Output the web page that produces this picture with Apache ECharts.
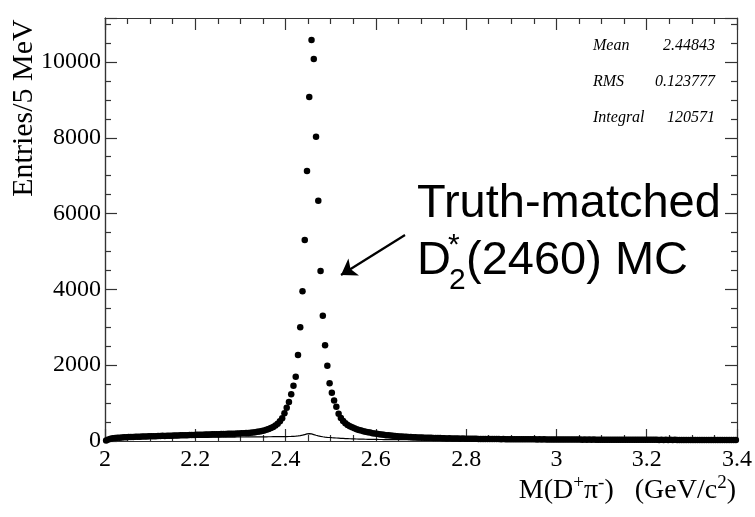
<!DOCTYPE html>
<html>
<head>
<meta charset="utf-8">
<script src="https://cdn.jsdelivr.net/npm/echarts@6/dist/echarts.min.js"></script>
<style>
html,body{margin:0;padding:0;background:#fff;}
#chart{width:755px;height:517px;}
</style>
</head>
<body>
<div id="chart"></div>
<script>
// Histogram binning (5 MeV bins from 2.0 to 3.4 GeV/c^2)
const BIN_START = 2.0;
const BIN_WIDTH = 0.005;

// Points (truth-matched MC), entries per 5 MeV bin
const DOT_VALUES = [
  12, 38, 57, 71, 78, 86, 89, 95, 96, 102, 103, 107, 106, 111, 114, 115, 118, 117, 122, 123,
  125, 128, 127, 132, 133, 136, 135, 139, 141, 140, 145, 146, 147, 150, 151, 154, 153, 157, 159, 158,
  162, 165, 164, 168, 169, 170, 174, 175, 176, 179, 180, 183, 182, 187, 188, 189, 193, 194, 195, 199,
  202, 204, 209, 212, 218, 224, 230, 241, 250, 265, 279, 295, 318, 341, 372, 410, 458, 520, 600, 731,
  879, 1029, 1232, 1459, 1697, 2269, 3000, 3950, 5303, 7124, 9077, 10580, 10079, 8029, 6340, 4485, 3306, 2525, 1987, 1522,
  1274, 1070, 905, 720, 610, 530, 470, 425, 390, 361, 334, 313, 291, 276, 259, 246, 231, 221, 207, 199,
  188, 180, 170, 164, 155, 150, 142, 138, 131, 128, 121, 119, 113, 111, 106, 105, 100, 99, 94, 93,
  90, 87, 87, 83, 83, 79, 79, 76, 76, 72, 73, 69, 70, 67, 67, 64, 65, 62, 63, 60,
  61, 58, 59, 57, 58, 55, 56, 54, 55, 52, 54, 51, 53, 50, 51, 49, 50, 48, 49, 47,
  48, 46, 47, 45, 47, 44, 46, 43, 45, 43, 44, 42, 44, 41, 43, 41, 42, 40, 42, 39,
  41, 39, 40, 38, 40, 38, 39, 37, 39, 37, 38, 36, 38, 36, 37, 35, 37, 35, 36, 34,
  36, 34, 35, 33, 35, 33, 34, 33, 34, 32, 34, 32, 33, 31, 33, 31, 33, 31, 32, 30,
  32, 30, 31, 30, 31, 29, 31, 29, 30, 29, 30, 28, 30, 28, 29, 28, 29, 27, 29, 27,
  28, 27, 28, 26, 28, 26, 27, 26, 27, 25, 27, 25, 26, 25, 26, 24, 26, 24, 25, 24
];

// Thin-line histogram underneath the points
const LINE_VALUES = [
  0, 8, 22, 35, 45, 52, 58, 62, 66, 69, 71, 73, 75, 76, 78, 79, 80, 81, 82, 83,
  84, 85, 85, 86, 87, 87, 88, 89, 89, 90, 90, 91, 92, 92, 93, 93, 94, 94, 95, 95,
  96, 96, 97, 97, 98, 98, 99, 99, 100, 100, 101, 101, 102, 102, 103, 103, 104, 104, 105, 105,
  106, 106, 107, 107, 108, 108, 109, 109, 110, 110, 111, 111, 112, 112, 113, 113, 114, 114, 115, 116,
  117, 119, 121, 124, 128, 134, 142, 154, 170, 186, 194, 186, 170, 152, 136, 122, 112, 104, 97, 92,
  87, 83, 79, 75, 71, 68, 65, 62, 59, 57, 55, 53, 51, 49, 48, 46, 45, 44, 43, 42,
  41, 40, 39, 38, 38, 37, 36, 36, 35, 35, 34, 34, 33, 33, 33, 32, 32, 32, 31, 31,
  31, 30, 30, 30, 29, 29, 29, 29, 28, 28, 28, 28, 27, 27, 27, 27, 27, 26, 26, 26,
  26, 26, 25, 25, 25, 25, 25, 24, 24, 24, 24, 24, 24, 23, 23, 23, 23, 23, 23, 22,
  22, 22, 22, 22, 22, 22, 21, 21, 21, 21, 21, 21, 21, 20, 20, 20, 20, 20, 20, 20,
  20, 19, 19, 19, 19, 19, 19, 19, 19, 18, 18, 18, 18, 18, 18, 18, 18, 18, 17, 17,
  17, 17, 17, 17, 17, 17, 17, 17, 16, 16, 16, 16, 16, 16, 16, 16, 16, 16, 16, 15,
  15, 15, 15, 15, 15, 15, 15, 15, 15, 15, 15, 14, 14, 14, 14, 14, 14, 14, 14, 14,
  14, 14, 14, 14, 13, 13, 13, 13, 13, 13, 13, 13, 13, 13, 13, 13, 12, 12, 12, 12
];

// Axis settings
const X_MIN = 2.0, X_MAX = 3.4, X_STEP = 0.2;
const Y_MIN = 0, Y_MAX = 11160, Y_STEP = 2000;

// Statistics box
const STAT_NAMES = ['Mean', 'RMS', 'Integral'];
const STAT_VALUES = ['2.44843', '0.123777', '120571'];

// Arrow annotation (tail -> tip), in data units
const ARROW_FROM = [2.6646, 5435];
const ARROW_TO = [2.5228, 4379];

function binCenter(i) { return +(BIN_START + (i + 0.5) * BIN_WIDTH).toFixed(4); }
const dotData = DOT_VALUES.map((v, i) => [binCenter(i), v]);
const lineData = LINE_VALUES.map((v, i) => [binCenter(i), v]);

const chart = echarts.init(document.getElementById('chart'));

const serif = 'Liberation Serif, Times New Roman, serif';
const sans = 'Liberation Sans, Arial, Helvetica, sans-serif';
const axisColor = '#333';
const GRID = {left: 105, right: 18, top: 18, bottom: 76, containLabel: false, outerBoundsMode: 'none'};

function frameAxis(extra) {
  return Object.assign({
    type: 'value',
    axisLine: {show: true, onZero: false, lineStyle: {color: axisColor, width: 1.2}},
    splitLine: {show: false},
    axisTick: {show: true, inside: true, length: 12, lineStyle: {color: axisColor, width: 1.2}},
    minorTick: {show: true, splitNumber: 4, length: 6, lineStyle: {color: axisColor, width: 1.2}},
    minorSplitLine: {show: false},
    axisLabel: {show: false}
  }, extra);
}
function dataAxis(extra) {
  return Object.assign({
    type: 'value',
    axisLine: {show: true, onZero: false, lineStyle: {color: axisColor, width: 1.2}},
    splitLine: {show: false},
    axisTick: {show: false},
    minorTick: {show: false}
  }, extra);
}
function label(text, pos, style) {
  return Object.assign({text: text, padding: 0, itemGap: 0,
    textStyle: Object.assign({color: '#000', fontWeight: 'normal'}, style)}, pos);
}

const titles = [
  // annotation
  label('Truth-matched', {left: 417, top: 181}, {fontFamily: sans, fontSize: 47, lineHeight: 47}),
  label('D', {left: 417, top: 238}, {fontFamily: sans, fontSize: 47, lineHeight: 47}),
  label('2', {left: 449, top: 266}, {fontFamily: sans, fontSize: 30, lineHeight: 30}),
  label('*', {left: 448, top: 231}, {fontFamily: sans, fontSize: 30, lineHeight: 30}),
  label('(2460) MC', {left: 466, top: 238}, {fontFamily: sans, fontSize: 47, lineHeight: 47}),
  // x axis title
  {text: '{a|M(D}{s|+}{a|π}{s|-}{a|)   (GeV/c}{s|2}{a|)}', right: 19, top: 474, padding: 0,
    textStyle: {fontWeight: 'normal', color: '#000', rich: {
      a: {fontFamily: serif, fontSize: 28, fontWeight: 'normal', color: '#000', lineHeight: 34},
      s: {fontFamily: serif, fontSize: 19, fontWeight: 'normal', color: '#000', lineHeight: 19, verticalAlign: 'top'}
    }}}
];
STAT_NAMES.forEach((n, k) => {
  const top = [38, 74, 110][k];
  titles.push(label(n, {left: 593, top: top}, {fontFamily: serif, fontSize: 16, fontStyle: 'italic', lineHeight: 16}));
  titles.push(label(STAT_VALUES[k], {right: 40, top: top}, {fontFamily: serif, fontSize: 16, fontStyle: 'italic', lineHeight: 16}));
});

const option = {
  animation: false,
  backgroundColor: '#fff',
  title: titles,
  grid: [Object.assign({}, GRID), Object.assign({}, GRID)],
  xAxis: [
    dataAxis({gridIndex: 0, min: X_MIN, max: X_MAX, interval: X_STEP, position: 'bottom',
      axisLabel: {show: true, margin: 7, color: '#000', fontFamily: serif, fontSize: 24,
        formatter: v => String(+v.toFixed(1))}}),
    frameAxis({gridIndex: 1, min: X_MIN, max: X_MAX, interval: X_STEP, position: 'bottom'}),
    frameAxis({gridIndex: 1, min: X_MIN, max: X_MAX, interval: X_STEP, position: 'top'})
  ],
  yAxis: [
    dataAxis({gridIndex: 0, min: Y_MIN, max: Y_MAX, interval: Y_STEP, position: 'left',
      axisLabel: {show: true, margin: 4, color: '#000', fontFamily: serif, fontSize: 24, showMaxLabel: false,
        formatter: v => (v % Y_STEP === 0 ? String(v) : '')}}),
    frameAxis({gridIndex: 1, min: Y_MIN, max: Y_MAX, interval: Y_STEP, position: 'left',
      name: 'Entries/5 MeV', nameLocation: 'middle', nameRotate: 90, nameGap: 66,
      nameTextStyle: {fontFamily: serif, fontSize: 30, color: '#000', padding: [0, 0, 0, 243]}}),
    frameAxis({gridIndex: 1, min: Y_MIN, max: Y_MAX, interval: Y_STEP, position: 'right'})
  ],
  series: [
    {
      type: 'line', xAxisIndex: 0, yAxisIndex: 0, data: lineData, step: 'middle',
      showSymbol: false, symbol: 'none', lineStyle: {color: '#000', width: 1.2}, z: 2
    },
    {
      type: 'scatter', xAxisIndex: 0, yAxisIndex: 0, data: dotData,
      symbol: 'circle', symbolSize: 6.5, itemStyle: {color: '#000', opacity: 1}, z: 3,
      markLine: {
        silent: true, animation: false,
        symbol: ['none', 'arrow'], symbolSize: 15,
        label: {show: false},
        lineStyle: {color: '#000', width: 2.2, type: 'solid'},
        data: [[{coord: ARROW_FROM}, {coord: ARROW_TO}]]
      }
    }
  ]
};

chart.setOption(option);
</script>
</body>
</html>
